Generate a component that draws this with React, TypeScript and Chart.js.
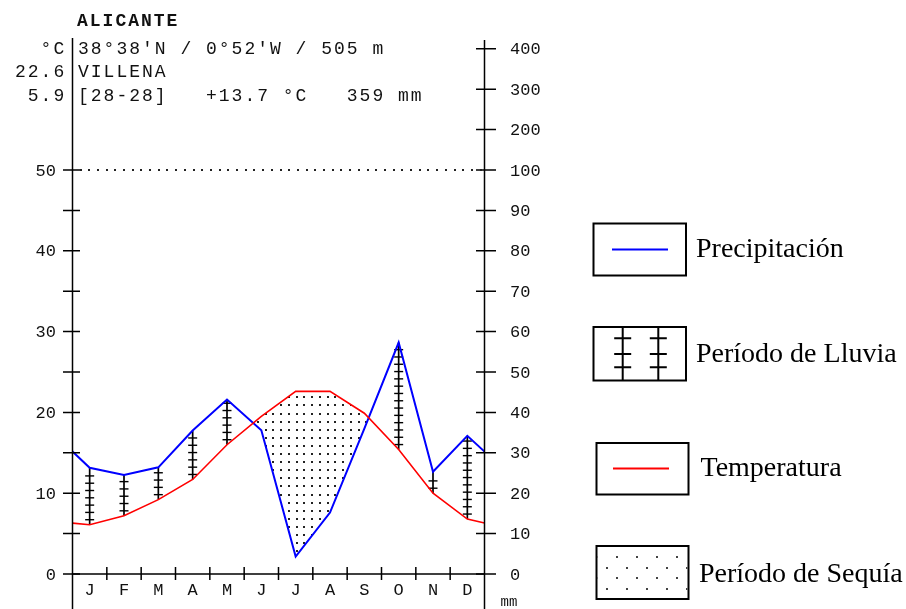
import React, { useEffect, useRef } from "react";
import { Chart, registerables } from "chart.js";

Chart.register(...registerables);

// ---- data ----
const months = ["J", "F", "M", "A", "M", "J", "J", "A", "S", "O", "N", "D"];
const temperature = [6.1, 7.2, 9.2, 11.7, 16.0, 19.5, 22.6, 22.6, 19.9, 15.4, 10.0, 6.8];
const precipitation = [26.3, 24.5, 26.4, 35.5, 43.2, 35.6, 4.3, 15.2, 36.0, 57.3, 25.3, 34.2];
const edgeTemperature = 6.3; // value drawn at the year's ends
const edgePrecipitation = 30.3;

const tempTickValues = [0, 5, 10, 15, 20, 25, 30, 35, 40, 45, 50];
const tempLabelValues = [0, 10, 20, 30, 40, 50];
const precipTickValues = [0, 10, 20, 30, 40, 50, 60, 70, 80, 90, 100, 110, 120, 130];
const precipTickLabels = ["0", "10", "20", "30", "40", "50", "60", "70", "80", "90", "100", "200", "300", "400"];

const station = "ALICANTE";
const headerRight = ["38°38'N / 0°52'W / 505 m", "VILLENA", "[28-28]   +13.7 °C   359 mm"];
const headerLeft = ["°C", "22.6", "5.9"];
const precipUnit = "mm";
const legendLabels = ["Precipitación", "Período de Lluvia", "Temperatura", "Período de Sequía"];

const MONO = '"Liberation Mono", "DejaVu Sans Mono", monospace';
const SERIF = '"Liberation Serif", "DejaVu Serif", serif';

function drawGridText(ctx: CanvasRenderingContext2D, text: string, x0: number, y: number, pitch: number) {
  for (let i = 0; i < text.length; i++) {
    ctx.fillText(text[i], x0 + i * pitch, y);
  }
}

const climatePlugin = {
  id: "climateDiagram",
  beforeDatasetsDraw(chart: any) {
    const { ctx, chartArea } = chart;
    const xs = chart.scales.x;
    const yT = chart.scales.y;
    const yP = chart.scales.yP;
    const tPts = [
      { x: xs.getPixelForValue(0), y: yT.getPixelForValue(edgeTemperature) },
      ...temperature.map((v, i) => ({ x: xs.getPixelForValue(i + 0.5), y: yT.getPixelForValue(v) })),
      { x: xs.getPixelForValue(12), y: yT.getPixelForValue(edgeTemperature) },
    ];
    const pPts = [
      { x: xs.getPixelForValue(0), y: yP.getPixelForValue(edgePrecipitation) },
      ...precipitation.map((v, i) => ({ x: xs.getPixelForValue(i + 0.5), y: yP.getPixelForValue(v) })),
      { x: xs.getPixelForValue(12), y: yP.getPixelForValue(edgePrecipitation) },
    ];

    // dry period: dots between temperature (above) and precipitation (below)
    ctx.save();
    ctx.beginPath();
    ctx.moveTo(tPts[0].x, tPts[0].y);
    tPts.forEach((p) => ctx.lineTo(p.x, p.y));
    ctx.lineTo(chartArea.right, chartArea.bottom + 1);
    ctx.lineTo(chartArea.left, chartArea.bottom + 1);
    ctx.closePath();
    ctx.clip();
    ctx.beginPath();
    ctx.moveTo(pPts[0].x, pPts[0].y);
    pPts.forEach((p) => ctx.lineTo(p.x, p.y));
    ctx.lineTo(chartArea.right, chartArea.top - 1);
    ctx.lineTo(chartArea.left, chartArea.top - 1);
    ctx.closePath();
    ctx.clip();
    ctx.fillStyle = "#222";
    const stepX = 7.75;
    const stepY = 8.1;
    for (let gx = 273.3 - stepX * 40; gx < chartArea.right; gx += stepX) {
      if (gx < chartArea.left) continue;
      for (let gy = 397.3 - stepY * 40; gy < chartArea.bottom; gy += stepY) {
        if (gy < chartArea.top) continue;
        ctx.fillRect(Math.round(gx) - 1, Math.round(gy) - 1, 2, 2);
      }
    }
    ctx.restore();

    // wet period: vertical hatch with small cross ticks
    ctx.save();
    ctx.strokeStyle = "#000";
    precipitation.forEach((p, i) => {
      const px = xs.getPixelForValue(i + 0.5);
      const top = yP.getPixelForValue(p);
      const bot = yT.getPixelForValue(temperature[i]);
      if (top >= bot) return;
      ctx.lineWidth = 1.7;
      ctx.beginPath();
      ctx.moveTo(px, top);
      ctx.lineTo(px, bot);
      ctx.stroke();
      ctx.lineWidth = 1.4;
      for (let ty = bot - 5; ty > top + 3; ty -= 7.3) {
        ctx.beginPath();
        ctx.moveTo(px - 4.5, ty);
        ctx.lineTo(px + 4.5, ty);
        ctx.stroke();
      }
    });
    ctx.restore();
  },
  afterDraw(chart: any) {
    const { ctx, chartArea } = chart;
    const xs = chart.scales.x;
    const yT = chart.scales.y;
    const yP = chart.scales.yP;
    const left = chartArea.left;
    const right = chartArea.right;
    const base = yT.getPixelForValue(0);

    ctx.save();
    ctx.strokeStyle = "#000";
    ctx.lineWidth = 1.5;
    // axes
    ctx.beginPath();
    ctx.moveTo(left, 38);
    ctx.lineTo(left, 609);
    ctx.moveTo(right, 40);
    ctx.lineTo(right, 609);
    ctx.moveTo(left, base);
    ctx.lineTo(right, base);
    ctx.stroke();
    // left ticks
    ctx.beginPath();
    tempTickValues.forEach((v) => {
      const y = yT.getPixelForValue(v);
      ctx.moveTo(left - 9.5, y);
      ctx.lineTo(left + 7.5, y);
    });
    // right ticks
    precipTickValues.forEach((v) => {
      const y = yP.getPixelForValue(v);
      ctx.moveTo(right - 8.5, y);
      ctx.lineTo(right + 11.5, y);
    });
    // month ticks
    for (let i = 1; i < 12; i++) {
      const x = xs.getPixelForValue(i);
      ctx.moveTo(x, base - 7);
      ctx.lineTo(x, base + 6);
    }
    ctx.stroke();

    // dotted 50 °C / 100 mm line
    const y50 = yT.getPixelForValue(50);
    ctx.fillStyle = "#222";
    for (let dx = left + 7; dx < right - 4; dx += 8.7) {
      ctx.fillRect(Math.round(dx), Math.round(y50) - 1, 2, 2);
    }

    // tick labels
    ctx.fillStyle = "#111";
    ctx.font = `17px ${MONO}`;
    ctx.textBaseline = "middle";
    ctx.textAlign = "right";
    tempLabelValues.forEach((v) => {
      ctx.fillText(String(v), 56, yT.getPixelForValue(v) + 1);
    });
    ctx.textAlign = "left";
    precipTickValues.forEach((v, i) => {
      ctx.fillText(precipTickLabels[i], 510, yP.getPixelForValue(v) + 1);
    });
    ctx.textAlign = "center";
    ctx.textBaseline = "alphabetic";
    months.forEach((m, i) => {
      ctx.fillText(m, xs.getPixelForValue(i + 0.5), 595);
    });
    ctx.font = `14px ${MONO}`;
    ctx.fillText(precipUnit, 509, 606);

    // header
    ctx.textAlign = "left";
    ctx.font = `bold 18px ${MONO}`;
    drawGridText(ctx, station, 77, 26, 12.8);
    ctx.font = `18px ${MONO}`;
    const baselines = [53.5, 76.5, 100.5];
    headerRight.forEach((t, i) => drawGridText(ctx, t, 78, baselines[i], 12.8));
    headerLeft.forEach((t, i) => drawGridText(ctx, t, 78 - (t.length + 1) * 12.8 + 1, baselines[i], 12.8));

    // legend
    ctx.lineWidth = 2;
    ctx.strokeStyle = "#000";
    const boxes = [
      { x: 593.5, y: 223.5, w: 92.5, h: 52 },
      { x: 593.5, y: 327, w: 92.5, h: 53.5 },
      { x: 596.5, y: 443, w: 92, h: 51.5 },
      { x: 596.5, y: 546, w: 92, h: 53 },
    ];
    boxes.forEach((b) => ctx.strokeRect(b.x, b.y, b.w, b.h));
    // precip sample
    ctx.strokeStyle = "#0000ff";
    ctx.beginPath();
    ctx.moveTo(612, 249.5);
    ctx.lineTo(668, 249.5);
    ctx.stroke();
    // temp sample
    ctx.strokeStyle = "#ff0000";
    ctx.beginPath();
    ctx.moveTo(613, 468.5);
    ctx.lineTo(669, 468.5);
    ctx.stroke();
    // wet sample
    ctx.strokeStyle = "#000";
    ctx.beginPath();
    [622.7, 658.3].forEach((lx) => {
      ctx.moveTo(lx, 327);
      ctx.lineTo(lx, 380.5);
      [338.3, 354, 367.3].forEach((ty) => {
        ctx.moveTo(lx - 8.5, ty);
        ctx.lineTo(lx + 8.5, ty);
      });
    });
    ctx.stroke();
    // dry sample
    ctx.save();
    ctx.beginPath();
    ctx.rect(597.5, 547, 90, 51);
    ctx.clip();
    ctx.fillStyle = "#444";
    for (let r = 0; r < 5; r++) {
      const dy = 546 + 0.3 + r * 10.7;
      const off = r % 2 === 0 ? 10 : 0;
      for (let c = 0; c < 6; c++) {
        const dx = 597 + off + c * 20;
        ctx.fillRect(Math.round(dx) - 1, Math.round(dy) - 1, 2, 2);
      }
    }
    ctx.restore();

    ctx.fillStyle = "#000";
    ctx.font = `28px ${SERIF}`;
    ctx.textAlign = "left";
    ctx.fillText(legendLabels[0], 696, 257);
    ctx.fillText(legendLabels[1], 696, 362);
    ctx.fillText(legendLabels[2], 700.5, 476);
    ctx.fillText(legendLabels[3], 699, 582);
    ctx.restore();
  },
};

export default function App() {
  const ref = useRef<HTMLCanvasElement>(null);
  useEffect(() => {
    const canvas = ref.current;
    if (!canvas) return;
    const toPts = (edge: number, vals: number[]) => [
      { x: 0, y: edge },
      ...vals.map((v, i) => ({ x: i + 0.5, y: v })),
      { x: 12, y: edge },
    ];
    const chart = new Chart(canvas, {
      type: "line",
      data: {
        datasets: [
          {
            label: "Temperatura",
            data: toPts(edgeTemperature, temperature),
            borderColor: "#ff0000",
            borderWidth: 1.6,
            pointRadius: 0,
            tension: 0,
            fill: false,
            yAxisID: "y",
          },
          {
            label: "Precipitación",
            data: toPts(edgePrecipitation, precipitation),
            borderColor: "#0000ff",
            borderWidth: 2,
            pointRadius: 0,
            tension: 0,
            fill: false,
            yAxisID: "yP",
          },
        ],
      },
      options: {
        animation: false,
        responsive: false,
        devicePixelRatio: 1,
        events: [],
        layout: { padding: { left: 72.5, right: 421.5, top: 48.8, bottom: 35 } },
        scales: {
          x: { type: "linear", min: 0, max: 12, display: false },
          y: { type: "linear", min: 0, max: 65, display: false },
          yP: { type: "linear", min: 0, max: 130, display: false, position: "right" },
        },
        plugins: { legend: { display: false }, tooltip: { enabled: false } },
      },
      plugins: [climatePlugin],
    } as any);
    return () => chart.destroy();
  }, []);
  return (
    <div style={{ position: "absolute", left: 0, top: 0, width: 906, height: 609, background: "#fff" }}>
      <canvas ref={ref} width={906} height={609} style={{ display: "block" }} />
    </div>
  );
}
